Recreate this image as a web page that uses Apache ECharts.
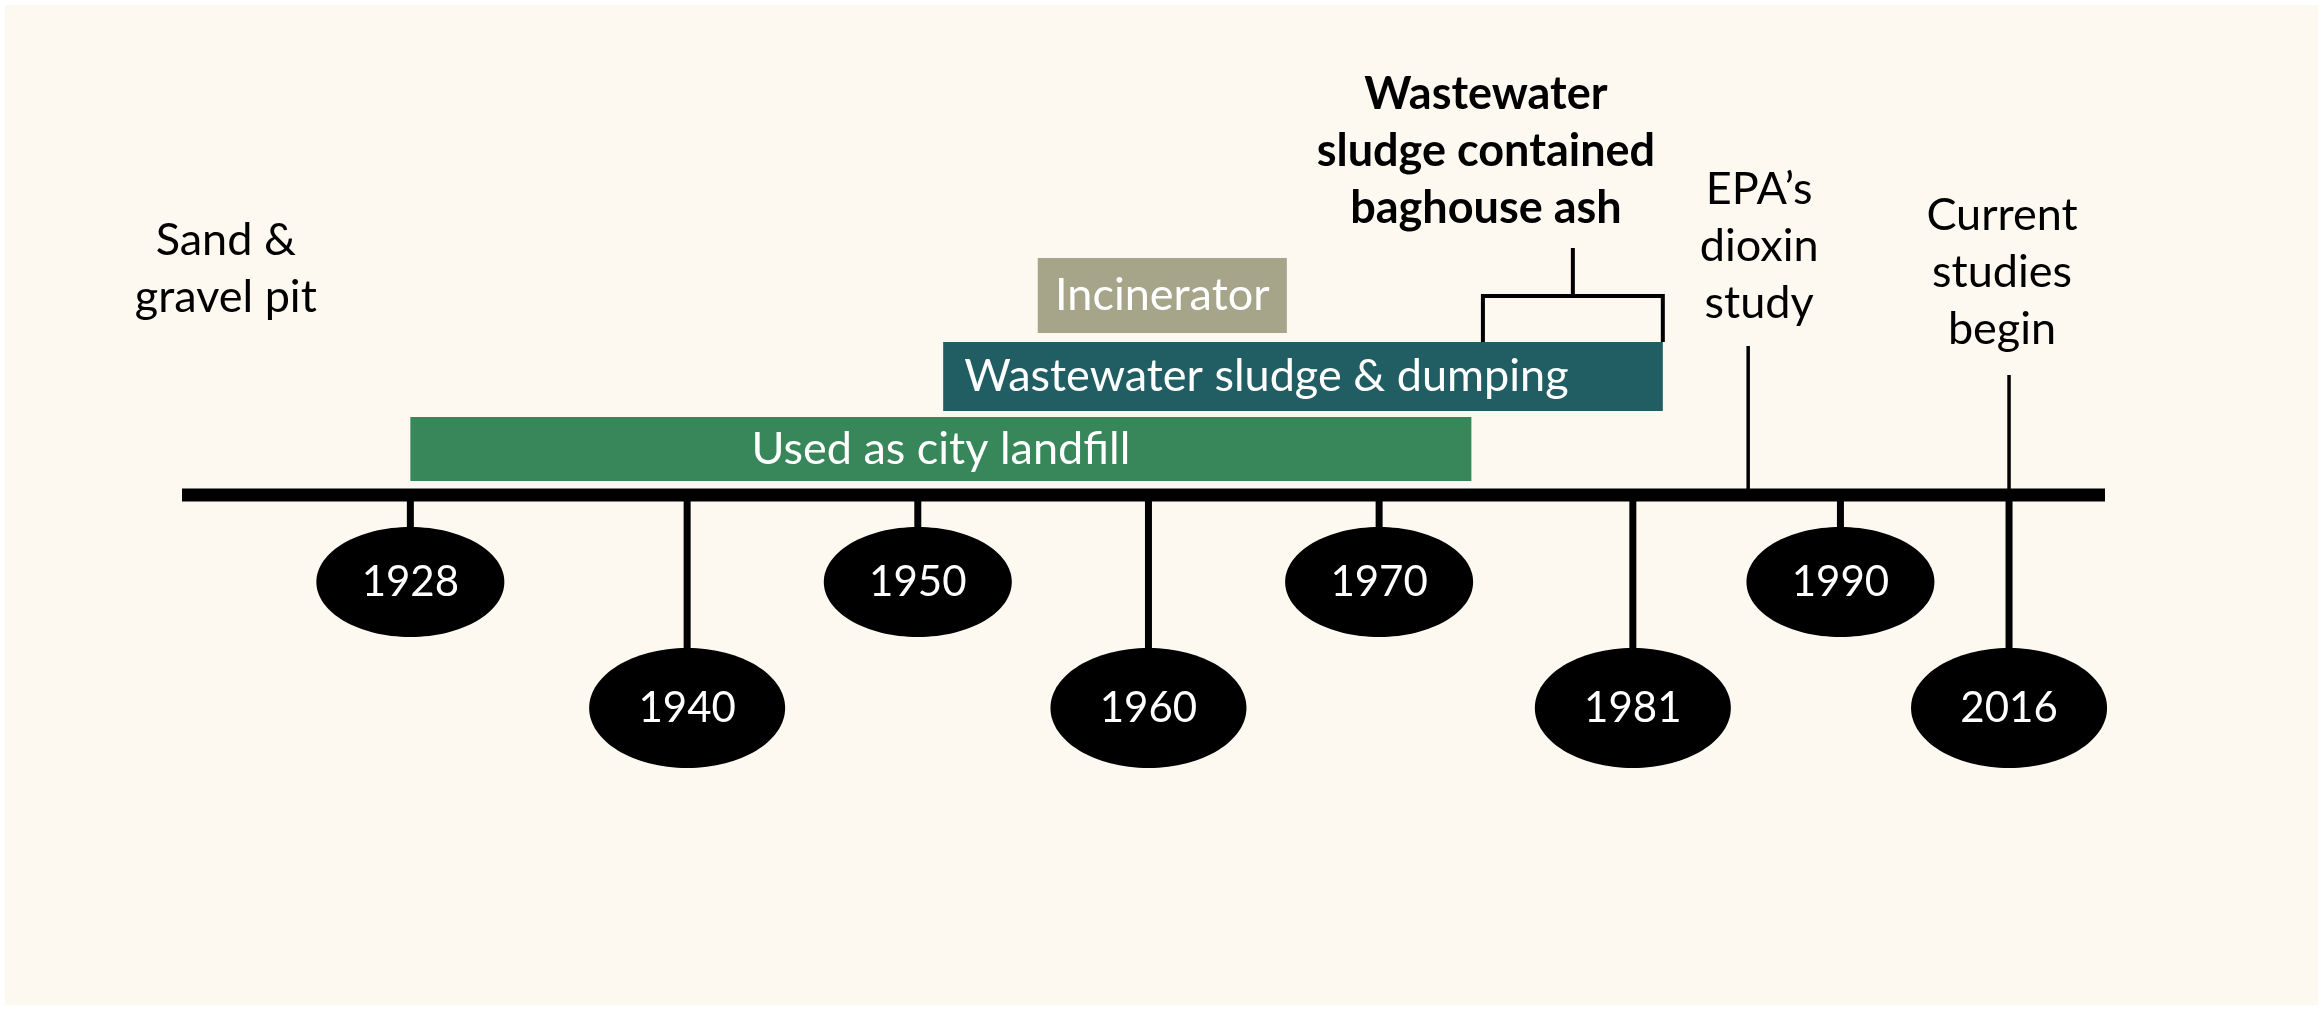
<!DOCTYPE html>
<html>
<head>
<meta charset="utf-8">
<script src="https://cdn.jsdelivr.net/npm/echarts@6/dist/echarts.min.js"></script>
<style>
html,body{margin:0;padding:0;background:#ffffff;}
#chart{width:2323px;height:1010px;}
</style>
</head>
<body>
<div id="chart"></div>
<script>
// ---------------- DATA ----------------
const milestoneYears = [1928, 1940, 1950, 1960, 1970, 1981, 1990, 2016];
const periodNames = ['Used as city landfill', 'Wastewater sludge & dumping', 'Incinerator'];
const periodStart = [1928, 1951.1, 1955.2];
const periodEnd = [1974, 1982.3, 1966];
const ashLabel = 'Wastewater\nsludge contained\nbaghouse ash';
const ashStart = [1974.5];
const ashEnd = [1982.3];
const noteNames = ['Sand &\ngravel pit', 'EPA\u2019s\ndioxin\nstudy', 'Current\nstudies\nbegin'];
const noteYears = [1920, 1986, 2016];

// ---------------- LAYOUT / STYLE ----------------
const FONT = 'Lato';
const FS = 45;      // running text
const FS_NUM = 42;  // years in the ovals
const LH = 57;
const LINE_W = 13;
const periodColors = ['#37875a', '#215e63', '#a6a58a'];
const LANES = [
  {top: -78, bottom: -14, align: 'center', pad: 0},
  {top: -153, bottom: -84, align: 'left', pad: 21},
  {top: -237, bottom: -162, align: 'center', pad: 0}
];
const MS = {
  up:   {cy: 87,  rx: 94, ry: 55, conEnd: 34, conW: 7},
  down: {cy: 213, rx: 98, ry: 60, conEnd: 155, conW: 7}
};
const BR = {legBottom: -153, bar: -199, stemTop: -247, textDx: 3, textCy: -344, lw: 4};
const NOTES = [
  {cy: -226, dx: 0, stemTop: null},
  {cy: -249, dx: 11, stemTop: -149},
  {cy: -223, dx: -7, stemTop: -120}
];

function renderTimeline(params, api) {
  const cs = params.coordSys;
  const y0 = api.coord([1950, 0])[1];
  return {type: 'rect', shape: {x: cs.x, y: y0 - LINE_W / 2, width: cs.width, height: LINE_W}, style: {fill: '#000'}};
}

function renderPeriod(params, api) {
  const i = params.dataIndex;
  const a = api.coord([api.value(0), 0]);
  const b = api.coord([api.value(1), 0]);
  const L = LANES[i];
  const x = a[0], w = b[0] - a[0];
  const top = a[1] + L.top, h = L.bottom - L.top;
  const tx = L.align === 'left' ? x + L.pad : x + w / 2;
  return {type: 'group', children: [
    {type: 'rect', shape: {x: x, y: top, width: w, height: h}, style: {fill: periodColors[i]}},
    {type: 'text', style: {text: periodNames[i], x: tx, y: top + h / 2, fill: '#ffffff', fontSize: FS, fontFamily: FONT, align: L.align, verticalAlign: 'middle'}}
  ]};
}

function renderBracket(params, api) {
  const a = api.coord([api.value(0), 0]);
  const b = api.coord([api.value(1), 0]);
  const y0 = a[1];
  const mid = (a[0] + b[0]) / 2;
  return {type: 'group', children: [
    {type: 'polyline', shape: {points: [[a[0], y0 + BR.legBottom], [a[0], y0 + BR.bar], [b[0], y0 + BR.bar], [b[0], y0 + BR.legBottom]]}, style: {stroke: '#000', lineWidth: BR.lw, fill: 'none'}},
    {type: 'line', shape: {x1: mid, y1: y0 + BR.bar, x2: mid, y2: y0 + BR.stemTop}, style: {stroke: '#000', lineWidth: BR.lw}},
    {type: 'text', style: {text: ashLabel, x: a[0] + BR.textDx, y: y0 + BR.textCy, fill: '#000', fontSize: FS, fontWeight: 'bold', fontFamily: FONT, align: 'center', verticalAlign: 'middle', lineHeight: LH}}
  ]};
}

function renderMilestone(params, api) {
  const i = params.dataIndex;
  const p = api.coord([api.value(0), 0]);
  const L = i % 2 === 0 ? MS.up : MS.down;
  const x = p[0], y0 = p[1];
  return {type: 'group', children: [
    {type: 'rect', shape: {x: x - L.conW / 2, y: y0, width: L.conW, height: L.conEnd}, style: {fill: '#000'}},
    {type: 'ellipse', shape: {cx: x, cy: y0 + L.cy, rx: L.rx, ry: L.ry}, style: {fill: '#000'}},
    {type: 'text', style: {text: String(milestoneYears[i]), x: x, y: y0 + L.cy, fill: '#ffffff', fontSize: FS_NUM, fontFamily: FONT, align: 'center', verticalAlign: 'middle'}}
  ]};
}

function renderNote(params, api) {
  const i = params.dataIndex;
  const p = api.coord([api.value(0), 0]);
  const N = NOTES[i];
  const x = p[0], y0 = p[1];
  const children = [
    {type: 'text', style: {text: noteNames[i], x: x + N.dx, y: y0 + N.cy, fill: '#000', fontSize: FS, fontFamily: FONT, align: 'center', verticalAlign: 'middle', lineHeight: LH}}
  ];
  if (N.stemTop !== null) {
    children.push({type: 'line', shape: {x1: x, y1: y0 + N.stemTop, x2: x, y2: y0}, style: {stroke: '#000', lineWidth: 3.5}});
  }
  return {type: 'group', children: children};
}

const chart = echarts.init(document.getElementById('chart'), null, {renderer: 'canvas'});
chart.setOption({
  backgroundColor: '#ffffff',
  animation: false,
  graphic: [{type: 'rect', left: 5, top: 5, z: -10, silent: true, shape: {width: 2313, height: 1000}, style: {fill: '#fdf9f1'}}],
  grid: {left: 182, right: 218, top: 0, bottom: 20},
  xAxis: {
    type: 'value', min: 1918.1, max: 2020.16, show: false,
    breaks: [{start: 1993, end: 2013, gap: 1.31}],
    breakArea: {show: false},
    splitLine: {show: false}
  },
  yAxis: {type: 'value', min: -1, max: 1, show: false, splitLine: {show: false}},
  series: [
    {type: 'custom', name: 'timeline', clip: false, z: 3, renderItem: renderTimeline, data: [[1950, 0]]},
    {type: 'custom', name: 'periods', clip: false, z: 2, renderItem: renderPeriod,
      encode: {x: [0, 1]},
      data: periodStart.map((s, i) => [s, periodEnd[i]])},
    {type: 'custom', name: 'ash', clip: false, z: 2, renderItem: renderBracket,
      encode: {x: [0, 1]},
      data: ashStart.map((s, i) => [s, ashEnd[i]])},
    {type: 'custom', name: 'milestones', clip: false, z: 2, renderItem: renderMilestone,
      encode: {x: 0},
      data: milestoneYears.map(y => [y])},
    {type: 'custom', name: 'notes', clip: false, z: 2, renderItem: renderNote,
      encode: {x: 0},
      data: noteYears.map(y => [y])}
  ]
});
</script>
</body>
</html>
